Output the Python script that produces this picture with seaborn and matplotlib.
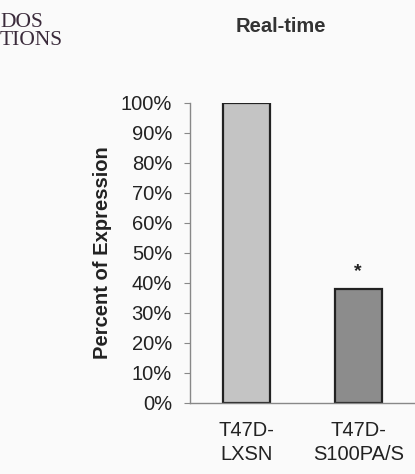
import pandas as pd
import matplotlib
matplotlib.use("Agg")
import matplotlib.pyplot as plt
import seaborn as sns
from matplotlib.ticker import PercentFormatter

# values
groups = ["T47D-\nLXSN", "T47D-\nS100PA/S"]
expression = [100, 38]
bar_colors = ["#c4c4c4", "#8c8c8c"]
y_ticks = list(range(0, 101, 10))

sns.set_style("white")
plt.rcParams['font.family'] = ['Liberation Sans', 'DejaVu Sans']

data = pd.DataFrame({"group": groups, "expr": expression})

bg = "#fafafa"
fig = plt.figure(figsize=(4.15, 4.74), dpi=100, facecolor=bg)
ax = fig.add_axes([0.458, 0.15, 0.54, 0.633])
ax.set_facecolor(bg)

sns.barplot(data=data, x="group", y="expr", hue="group", palette=bar_colors,
            width=0.42, edgecolor="#222222", linewidth=1.6, legend=False, ax=ax)

ax.set_xlim(-0.5, 1.5)
ax.set_ylim(0, 100)
ax.set_yticks(y_ticks)
ax.yaxis.set_major_formatter(PercentFormatter(decimals=0))
ax.set_xticks([0, 1])
ax.set_xticklabels(groups, fontsize=14.5, linespacing=1.35, color="#222222")
ax.set_xticks([-0.5, 0.5, 1.5], minor=True)
ax.tick_params(axis="x", which="major", length=0, pad=13)
ax.tick_params(axis="x", which="minor", length=5, color="#888888", direction="out")
ax.tick_params(axis="y", length=4, color="#888888", direction="out", labelsize=14.5,
               labelcolor="#222222", left=True, pad=9)
ax.set_xlabel("")
ax.set_ylabel("Percent of Expression", fontsize=14.5, fontweight="bold",
              labelpad=6, color="#222222")
for s in ["top", "right"]:
    ax.spines[s].set_visible(False)
for s in ["left", "bottom"]:
    ax.spines[s].set_color("#888888")
    ax.spines[s].set_linewidth(1.0)

# significance star
ax.text(1, expression[1] + 3, "*", ha="center", va="bottom", fontsize=14,
        fontweight="bold", color="#222222")

fig.text(0.677, 0.945, "Real-time", ha="center", va="center", fontsize=14.5,
         fontweight="bold", color="#333333")
# cropped logo in the corner
fig.text(0.0, 0.933, "DOS\nTIONS", ha="left", va="center", multialignment="left",
         fontsize=15.5, linespacing=0.95, family="Liberation Serif", color="#3b2b3b")

fig.savefig("out.png", dpi=100, facecolor=fig.get_facecolor())
